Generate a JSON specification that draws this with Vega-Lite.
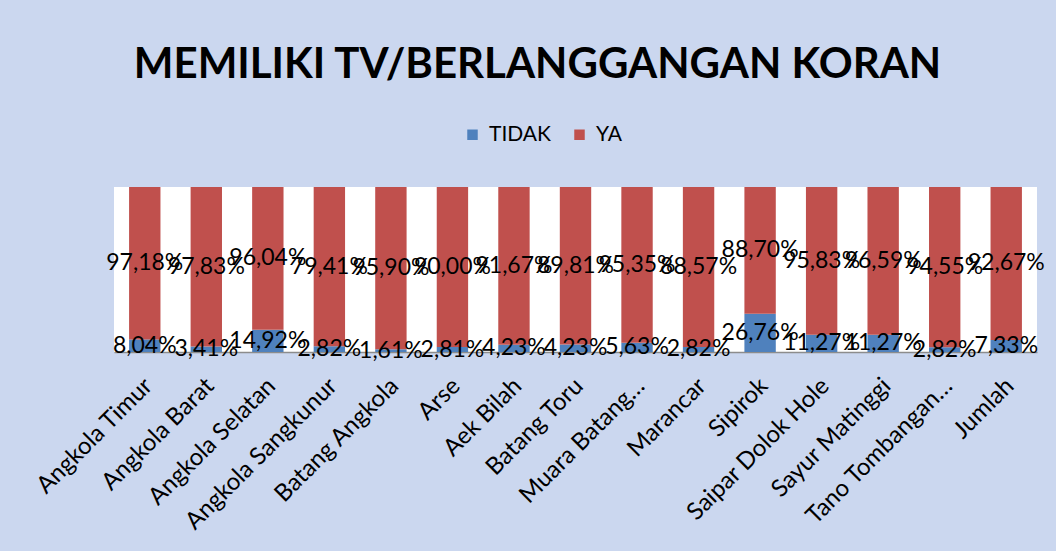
{
  "$schema": "https://vega.github.io/schema/vega-lite/v6.json",
  "width": 923,
  "height": 165,
  "autosize": {"type": "none"},
  "padding": {"left": 114, "top": 187, "right": 19, "bottom": 199},
  "background": "#cbd7ef",
  "title": {
    "text": "MEMILIKI TV/BERLANGGANGAN KORAN",
    "font": "Lato",
    "fontSize": 42,
    "fontWeight": "bold",
    "color": "#000000",
    "anchor": "middle",
    "dx": -38,
    "offset": 37
  },
  "data": {
    "values": [
      {"kecamatan": "Angkola Timur", "status": "TIDAK", "nilai": 8.04},
      {"kecamatan": "Angkola Timur", "status": "YA", "nilai": 97.18},
      {"kecamatan": "Angkola Barat", "status": "TIDAK", "nilai": 3.41},
      {"kecamatan": "Angkola Barat", "status": "YA", "nilai": 97.83},
      {"kecamatan": "Angkola Selatan", "status": "TIDAK", "nilai": 14.92},
      {"kecamatan": "Angkola Selatan", "status": "YA", "nilai": 96.04},
      {"kecamatan": "Angkola Sangkunur", "status": "TIDAK", "nilai": 2.82},
      {"kecamatan": "Angkola Sangkunur", "status": "YA", "nilai": 79.41},
      {"kecamatan": "Batang Angkola", "status": "TIDAK", "nilai": 1.61},
      {"kecamatan": "Batang Angkola", "status": "YA", "nilai": 95.90},
      {"kecamatan": "Arse", "status": "TIDAK", "nilai": 2.81},
      {"kecamatan": "Arse", "status": "YA", "nilai": 90.00},
      {"kecamatan": "Aek Bilah", "status": "TIDAK", "nilai": 4.23},
      {"kecamatan": "Aek Bilah", "status": "YA", "nilai": 91.67},
      {"kecamatan": "Batang Toru", "status": "TIDAK", "nilai": 4.23},
      {"kecamatan": "Batang Toru", "status": "YA", "nilai": 89.81},
      {"kecamatan": "Muara Batang…", "status": "TIDAK", "nilai": 5.63},
      {"kecamatan": "Muara Batang…", "status": "YA", "nilai": 95.35},
      {"kecamatan": "Marancar", "status": "TIDAK", "nilai": 2.82},
      {"kecamatan": "Marancar", "status": "YA", "nilai": 88.57},
      {"kecamatan": "Sipirok", "status": "TIDAK", "nilai": 26.76},
      {"kecamatan": "Sipirok", "status": "YA", "nilai": 88.70},
      {"kecamatan": "Saipar Dolok Hole", "status": "TIDAK", "nilai": 11.27},
      {"kecamatan": "Saipar Dolok Hole", "status": "YA", "nilai": 95.83},
      {"kecamatan": "Sayur Matinggi", "status": "TIDAK", "nilai": 11.27},
      {"kecamatan": "Sayur Matinggi", "status": "YA", "nilai": 96.59},
      {"kecamatan": "Tano Tombangan…", "status": "TIDAK", "nilai": 2.82},
      {"kecamatan": "Tano Tombangan…", "status": "YA", "nilai": 94.55},
      {"kecamatan": "Jumlah", "status": "TIDAK", "nilai": 7.33},
      {"kecamatan": "Jumlah", "status": "YA", "nilai": 92.67}
    ]
  },
  "transform": [
    {"calculate": "replace(format(datum.nilai, '.2f'), '.', ',') + '%'", "as": "label"}
  ],
  "encoding": {
    "x": {
      "field": "kecamatan",
      "type": "nominal",
      "sort": null,
      "scale": {"paddingInner": 0.49, "paddingOuter": 0.245},
      "axis": {
        "title": null,
        "labelAngle": -45,
        "labelAlign": "right",
        "labelBaseline": "middle",
        "labelFont": "Lato",
        "labelFontSize": 24,
        "labelColor": "#000000",
        "labelPadding": 30,
        "labelOffset": 4,
        "labelLimit": 0,
        "ticks": false,
        "domainColor": "#8c8c8c",
        "domainWidth": 1.5
      }
    }
  },
  "layer": [
    {
      "mark": {"type": "bar"},
      "encoding": {
        "y": {"field": "nilai", "type": "quantitative", "stack": "normalize", "axis": null},
        "order": {"field": "status", "sort": "ascending"},
        "color": {
          "field": "status",
          "type": "nominal",
          "scale": {"domain": ["TIDAK", "YA"], "range": ["#4f81bd", "#c0504d"]},
          "legend": {
            "title": null,
            "orient": "none",
            "legendX": 348,
            "legendY": -63,
            "direction": "horizontal",
            "labelFont": "Lato",
            "labelFontSize": 21,
            "labelColor": "#000000",
            "symbolType": "square",
            "symbolSize": 110,
            "symbolStrokeWidth": 0,
            "columnPadding": 18,
            "labelOffset": 6
          }
        }
      }
    },
    {
      "mark": {"type": "text", "font": "Lato", "fontSize": 23, "color": "#000000"},
      "encoding": {
        "y": {"field": "nilai", "type": "quantitative", "stack": "normalize", "bandPosition": 0.5},
        "order": {"field": "status", "sort": "ascending"},
        "detail": {"field": "status"},
        "text": {"field": "label"}
      }
    }
  ],
  "config": {
    "view": {"stroke": null, "fill": "white"}
  }
}
